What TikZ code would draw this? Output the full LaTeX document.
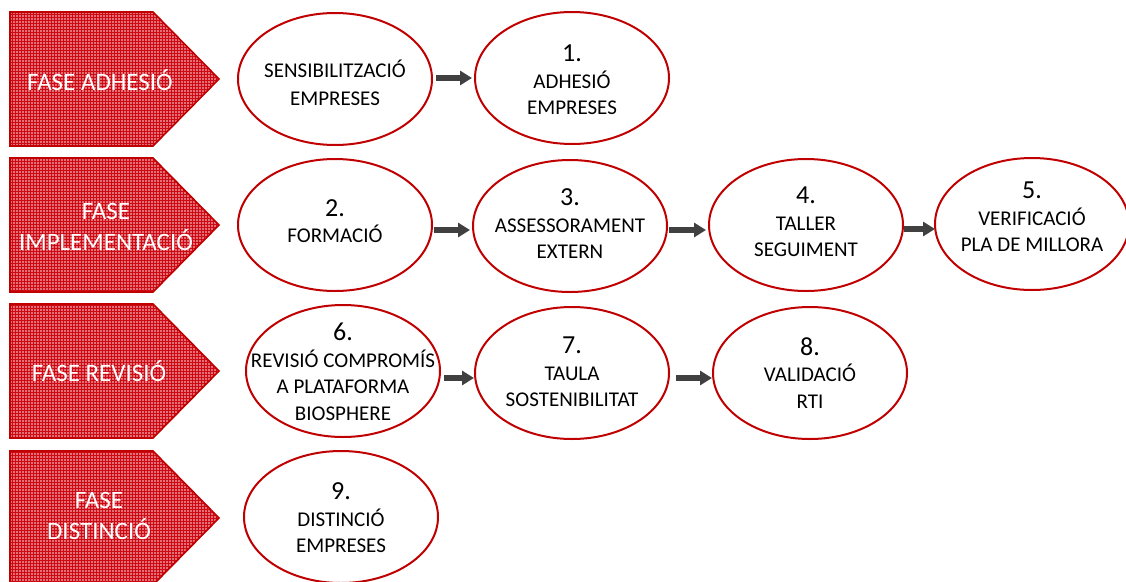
\documentclass[tikz,border=0pt]{standalone}
\usepackage{fontspec}
\setmainfont{Carlito}
\usetikzlibrary{arrows.meta,patterns,shapes.geometric}
\definecolor{fred}{RGB}{192,0,0}
\definecolor{fasefill}{RGB}{226,112,118}
\definecolor{fasegrid}{RGB}{205,10,20}
\definecolor{arrgray}{RGB}{64,64,64}
\tikzset{
  fase/.style={draw=fred, line width=1.6pt, line join=miter, preaction={fill=fasefill}, pattern=grid, pattern color=fasegrid},
  fasetxt/.style={text=white, font=\fontsize{25}{31}\selectfont, align=center, inner sep=0pt},
  stage/.style={ellipse, draw=fred, line width=2pt, fill=white, minimum width=194pt, minimum height=132pt, inner sep=0pt},
  stxt/.style={font=\fontsize{21}{26.5}\selectfont, align=center, inner sep=0pt, text=black},
  arr/.style={draw=arrgray, line width=5.5pt, -{Triangle[length=12pt,width=14pt]}},
}
\newcommand{\nm}[1]{{\fontsize{26}{27}\selectfont #1}}
\begin{document}
\begin{tikzpicture}[x=1pt,y=-1pt]
\useasboundingbox (0,0) rectangle (1126,581);
% phase arrows
\draw[fase] (10,12) -- (153,12) -- (219,79) -- (153,146) -- (10,146) -- cycle;
\node[fasetxt] (f1) at (100,80) {FASE ADHESIÓ};
\draw[fase] (10,158) -- (153,158) -- (219,225) -- (153,292) -- (10,292) -- cycle;
\node[fasetxt] (f2) at (106,227) {FASE\\IMPLEMENTACIÓ};
\draw[fase] (10,304) -- (153,304) -- (219,371) -- (153,438) -- (10,438) -- cycle;
\node[fasetxt] (f3) at (99,371) {FASE REVISIÓ};
\draw[fase] (10,451) -- (153,451) -- (219,518) -- (153,585) -- (10,585) -- cycle;
\node[fasetxt] (f4) at (99,516) {FASE\\DISTINCIÓ};
% stages
\node[stage, label={[stxt,name=t0,yshift=-4pt,font=\fontsize{21}{28}\selectfont]center:{SENSIBILITZACIÓ\\EMPRESES}}] (n0) at (335,79) {};
\node[stage, label={[stxt,name=t1,yshift=-2pt]center:{\nm{1.}\\ADHESIÓ\\EMPRESES}}] (n1) at (572,78) {};
\node[stage, label={[stxt,name=t2,yshift=4pt]center:{\nm{2.}\\FORMACIÓ}}] (n2) at (335,225) {};
\node[stage, label={[stxt,name=t3,yshift=2pt]center:{\nm{3.}\\ASSESSORAMENT\\EXTERN}}] (n3) at (570,226) {};
\node[stage, label={[stxt,name=t4,yshift=3pt]center:{\nm{4.}\\TALLER\\SEGUIMENT}}] (n4) at (806,225) {};
\node[stage, label={[stxt,name=t5,yshift=7pt]center:{\nm{5.}\\VERIFICACIÓ\\PLA DE MILLORA}}] (n5) at (1032,224) {};
\node[stage, label={[stxt,name=t6,yshift=-1pt]center:{\nm{6.}\\REVISIÓ COMPROMÍS\\A PLATAFORMA\\BIOSPHERE}}] (n6) at (343,371) {};
\node[stage, label={[stxt,name=t7,yshift=1pt]center:{\nm{7.}\\TAULA\\SOSTENIBILITAT}}] (n7) at (572,373) {};
\node[stage, label={[stxt,name=t8]center:{\nm{8.}\\VALIDACIÓ\\RTI}}] (n8) at (810,373) {};
\node[stage, label={[stxt,name=t9,yshift=-1pt]center:{\nm{9.}\\DISTINCIÓ\\EMPRESES}}] (n9) at (341,517) {};
% connectors
\draw[arr, shorten <=3pt, shorten >=2pt] (n0.east |- 0,78) -- (n1.west |- 0,78);
\draw[arr, shorten <=1pt, shorten >=2pt] (n2.east |- 0,230) -- (n3.west |- 0,230);
\draw[arr, shorten <=1pt, shorten >=2pt] (n3.east |- 0,230) -- (n4.west |- 0,230);
\draw[arr, shorten >=-1pt] (n4.east |- 0,229) -- (n5.west |- 0,229);
\draw[arr, shorten <=3pt, shorten >=0pt] (n6.east |- 0,378) -- (n7.west |- 0,378);
\draw[arr, shorten <=6pt, shorten >=0pt] (n7.east |- 0,378) -- (n8.west |- 0,378);
\end{tikzpicture}
\end{document}
